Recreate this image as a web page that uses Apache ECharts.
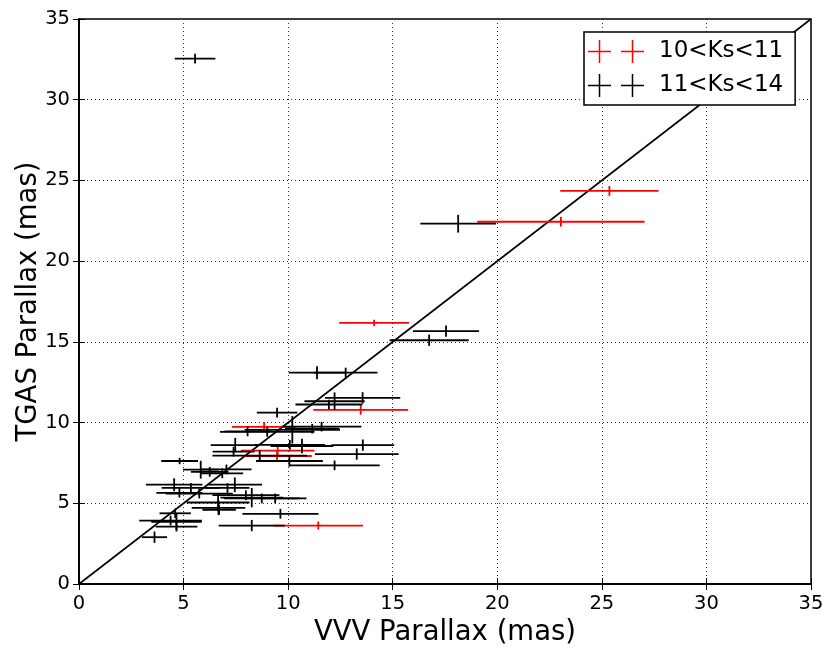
<!DOCTYPE html>
<html>
<head>
<meta charset="utf-8">
<script src="https://cdn.jsdelivr.net/npm/echarts@6/dist/echarts.min.js"></script>
<style>html,body{margin:0;padding:0;background:#fff}#c{width:830px;height:658px}</style>
</head>
<body>
<div id="c"></div>
<script>
// ---- data (parallax in mas) ----
const axisTicks = [0, 5, 10, 15, 20, 25, 30, 35];
const diagonal = [[0, 0], [35, 35]];

// 10<Ks<11 (red)
const redX    = [25.36, 23.04, 14.11, 13.47, 8.85, 9.50, 9.47, 11.44];
const redY    = [24.35, 22.44, 16.17, 10.79, 9.73, 8.26, 7.93, 3.62];
const redXerr = [2.35, 4.00, 1.67, 2.27, 1.54, 1.76, 1.66, 2.14];
const redYerr = [0.30, 0.30, 0.20, 0.30, 0.30, 0.30, 0.30, 0.25];

// 11<Ks<14 (black)
const blackX    = [5.55, 18.13, 17.55, 16.74, 11.38, 12.75, 13.56, 12.22, 11.95, 9.47,
                   11.60, 11.15, 10.20, 9.00, 8.06, 13.57, 7.47, 10.08, 10.66, 13.28,
                   8.64, 7.39, 10.06, 4.81, 12.22, 5.82, 6.25, 6.85, 7.05, 4.55,
                   7.45, 5.35, 7.10, 4.80, 5.75, 7.98, 8.26, 8.74, 9.38, 6.67,
                   6.70, 9.63, 4.60, 4.38, 4.66, 4.66, 8.26, 3.61, 6.65];
const blackY    = [32.55, 22.32, 15.67, 15.10, 13.09, 13.10, 11.53, 11.32, 11.12, 10.62,
                   9.75, 9.62, 9.55, 9.42, 9.45, 8.60, 8.60, 8.62, 8.55, 8.05,
                   7.95, 8.20, 7.62, 7.62, 7.35, 7.08, 6.95, 6.85, 7.10, 6.15,
                   6.15, 5.95, 5.95, 5.65, 5.60, 5.50, 5.35, 5.30, 5.30, 4.72,
                   4.60, 4.35, 4.38, 3.93, 3.85, 3.55, 3.62, 2.90, 5.05];
const blackXerr = [0.97, 1.81, 1.58, 1.89, 1.35, 1.52, 1.80, 1.44, 1.60, 0.97,
                   1.90, 1.30, 2.28, 2.26, 1.10, 1.50, 1.17, 1.68, 1.50, 2.00,
                   2.26, 1.00, 1.60, 0.88, 2.16, 0.85, 0.90, 1.00, 1.20, 1.35,
                   1.30, 1.40, 1.05, 1.10, 1.60, 1.60, 1.50, 1.80, 1.50, 1.28,
                   0.80, 1.82, 0.75, 1.50, 1.20, 1.00, 1.58, 0.60, 1.50];
const blackYerr = [0.30, 0.55, 0.35, 0.35, 0.40, 0.30, 0.35, 0.55, 0.30, 0.30,
                   0.30, 0.30, 0.85, 0.30, 0.30, 0.35, 0.45, 0.30, 0.45, 0.35,
                   0.35, 0.30, 0.35, 0.20, 0.30, 0.55, 0.30, 0.30, 0.30, 0.40,
                   0.45, 0.30, 0.30, 0.30, 0.30, 0.30, 0.60, 0.30, 0.30, 0.45,
                   0.30, 0.30, 0.30, 0.30, 0.50, 0.30, 0.35, 0.35, 0.55];

const FONT = 'DejaVu Sans';

function rows(xs, ys, exs, eys) {
  return xs.map((x, i) => [x, ys[i], exs[i], eys[i]]);
}
function errRender(color) {
  return function (params, api) {
    const x = api.value(0), y = api.value(1), ex = api.value(2), ey = api.value(3);
    const l = api.coord([x - ex, y]), r = api.coord([x + ex, y]);
    const b = api.coord([x, y - ey]), t = api.coord([x, y + ey]);
    const st = { stroke: color, lineWidth: 1.8 };
    return {
      type: 'group',
      children: [
        { type: 'line', shape: { x1: l[0], y1: l[1], x2: r[0], y2: r[1] }, style: st },
        { type: 'line', shape: { x1: b[0], y1: b[1], x2: t[0], y2: t[1] }, style: st }
      ]
    };
  };
}

const crossIcon = 'path://M0,10.75H23V12.25H0Z M10.75,0H12.25V23H10.75Z M33,10.75H56V12.25H33Z M43.75,0H45.25V23H43.75Z';

const baseAxis = {
  min: axisTicks[0], max: axisTicks[axisTicks.length - 1], interval: 5, type: 'value'
};

const chart = echarts.init(document.getElementById('c'), null, { renderer: 'canvas' });
chart.setOption({
  animation: false,
  backgroundColor: '#fff',
  textStyle: { fontFamily: FONT },
  grid: { left: 79, right: 19, top: 19, bottom: 74, containLabel: false, outerBoundsMode: 'none',
          show: true, borderColor: '#000', borderWidth: 1.5, backgroundColor: 'transparent' },
  legend: {
    left: 584, top: 32, orient: 'vertical',
    padding: [8, 12, 8, 4], itemGap: 11, itemWidth: 56, itemHeight: 23,
    backgroundColor: '#fff', borderColor: '#000', borderWidth: 1.5, borderRadius: 0,
    selectedMode: false,
    textStyle: { fontFamily: FONT, fontSize: 23, color: '#000', padding: [0, 0, 0, 10], lineHeight: 23 },
    data: [
      { name: '10<Ks<11', icon: crossIcon, itemStyle: { color: '#ff0000' } },
      { name: '11<Ks<14', icon: crossIcon, itemStyle: { color: '#000000' } }
    ]
  },
  xAxis: [
    Object.assign({}, baseAxis, {
      position: 'bottom',
      name: 'VVV Parallax (mas)', nameLocation: 'middle', nameGap: 35,
      nameTextStyle: { fontFamily: FONT, fontSize: 27.5, color: '#000' },
      axisLine: { show: true, lineStyle: { color: '#000', width: 1.5 } },
      axisTick: { show: true, inside: true, length: 6, lineStyle: { color: '#000' } },
      axisLabel: { fontFamily: FONT, fontSize: 19.5, color: '#000', margin: 10 },
      splitLine: { show: true, lineStyle: { color: '#333', type: [1, 3], width: 1 } }
    }),
    Object.assign({}, baseAxis, {
      position: 'top',
      axisLine: { show: true, lineStyle: { color: '#000', width: 1.5 } },
      axisTick: { show: true, inside: true, length: 6, lineStyle: { color: '#000' } },
      axisLabel: { show: false }, splitLine: { show: false }
    })
  ],
  yAxis: [
    Object.assign({}, baseAxis, {
      position: 'left',
      name: 'TGAS Parallax (mas)', nameLocation: 'middle', nameGap: 36, nameMoveOverlap: false,
      nameTextStyle: { fontFamily: FONT, fontSize: 27.5, color: '#000' },
      axisLine: { show: true, lineStyle: { color: '#000', width: 1.5 } },
      axisTick: { show: true, inside: true, length: 6, lineStyle: { color: '#000' } },
      axisLabel: { fontFamily: FONT, fontSize: 19.5, color: '#000', margin: 9 },
      splitLine: { show: true, lineStyle: { color: '#333', type: [1, 3], width: 1 } }
    }),
    Object.assign({}, baseAxis, {
      position: 'right',
      axisLine: { show: true, lineStyle: { color: '#000', width: 1.5 } },
      axisTick: { show: true, inside: true, length: 6, lineStyle: { color: '#000' } },
      axisLabel: { show: false }, splitLine: { show: false }
    })
  ],
  series: [
    {
      type: 'line', name: 'one-to-one', data: diagonal, xAxisIndex: 0, yAxisIndex: 0,
      showSymbol: false, symbol: 'none', lineStyle: { color: '#000', width: 1.6 }, z: 2, silent: true
    },
    {
      type: 'custom', name: '10<Ks<11', xAxisIndex: 0, yAxisIndex: 0,
      data: rows(redX, redY, redXerr, redYerr),
      encode: { x: 0, y: 1 },
      renderItem: errRender('#ff0000'), itemStyle: { color: '#ff0000' }, z: 3
    },
    {
      type: 'custom', name: '11<Ks<14', xAxisIndex: 0, yAxisIndex: 0,
      data: rows(blackX, blackY, blackXerr, blackYerr),
      encode: { x: 0, y: 1 },
      renderItem: errRender('#000000'), itemStyle: { color: '#000000' }, z: 4
    }
  ]
});
</script>
</body>
</html>
